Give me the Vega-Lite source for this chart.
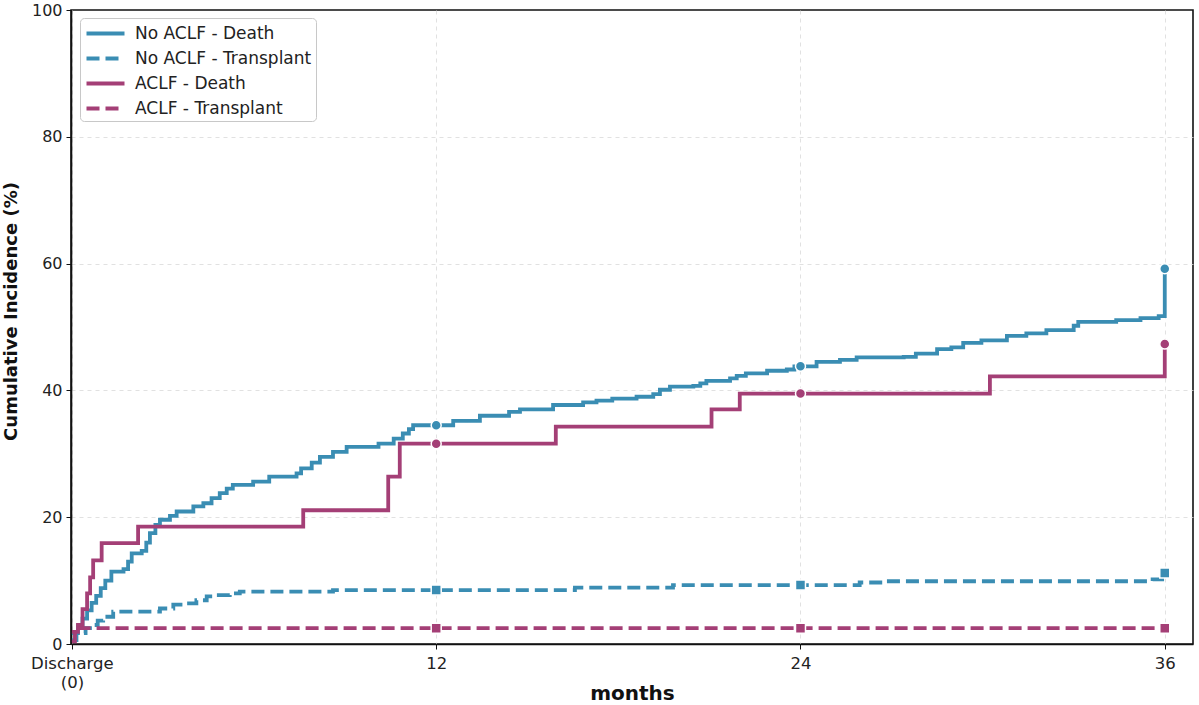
{
  "$schema": "https://vega.github.io/schema/vega-lite/v6.json",
  "width": 1122,
  "height": 634,
  "autosize": {"type": "none"},
  "padding": {"left": 71, "top": 10, "right": 6, "bottom": 61},
  "background": "white",
  "config": {
    "font": "DejaVu Sans",
    "view": {"stroke": "#111", "strokeWidth": 1.6},
    "axis": {
      "labelFont": "DejaVu Sans",
      "labelColor": "#222",
      "titleFont": "DejaVu Sans",
      "titleFontWeight": "bold",
      "titleColor": "#111",
      "domainColor": "#111",
      "domainWidth": 1.6,
      "tickColor": "#111",
      "tickSize": 5,
      "tickWidth": 1,
      "gridColor": "#d9d9d9",
      "gridDash": [4, 4],
      "gridWidth": 0.8
    }
  },
  "datasets": {
    "curves": [
      {"series": "No ACLF - Death", "month": 0, "value": 1.7},
      {"series": "No ACLF - Death", "month": 0.2, "value": 2.8},
      {"series": "No ACLF - Death", "month": 0.35, "value": 4.0},
      {"series": "No ACLF - Death", "month": 0.5, "value": 5.3},
      {"series": "No ACLF - Death", "month": 0.65, "value": 6.5},
      {"series": "No ACLF - Death", "month": 0.8, "value": 7.6},
      {"series": "No ACLF - Death", "month": 0.95, "value": 8.8},
      {"series": "No ACLF - Death", "month": 1.1, "value": 10.0},
      {"series": "No ACLF - Death", "month": 1.3, "value": 11.4},
      {"series": "No ACLF - Death", "month": 1.7, "value": 11.8},
      {"series": "No ACLF - Death", "month": 1.85, "value": 13.0},
      {"series": "No ACLF - Death", "month": 1.97, "value": 14.3},
      {"series": "No ACLF - Death", "month": 2.3, "value": 14.7},
      {"series": "No ACLF - Death", "month": 2.45, "value": 16.0},
      {"series": "No ACLF - Death", "month": 2.57, "value": 17.5},
      {"series": "No ACLF - Death", "month": 2.75, "value": 18.8},
      {"series": "No ACLF - Death", "month": 2.9, "value": 19.6},
      {"series": "No ACLF - Death", "month": 3.23, "value": 20.2},
      {"series": "No ACLF - Death", "month": 3.45, "value": 20.9},
      {"series": "No ACLF - Death", "month": 4.0, "value": 21.7},
      {"series": "No ACLF - Death", "month": 4.33, "value": 22.2},
      {"series": "No ACLF - Death", "month": 4.6, "value": 23.0},
      {"series": "No ACLF - Death", "month": 4.87, "value": 23.8},
      {"series": "No ACLF - Death", "month": 5.1, "value": 24.5},
      {"series": "No ACLF - Death", "month": 5.3, "value": 25.1},
      {"series": "No ACLF - Death", "month": 5.97, "value": 25.6},
      {"series": "No ACLF - Death", "month": 6.5, "value": 26.4},
      {"series": "No ACLF - Death", "month": 7.4, "value": 26.9},
      {"series": "No ACLF - Death", "month": 7.55, "value": 27.7},
      {"series": "No ACLF - Death", "month": 7.9, "value": 28.6},
      {"series": "No ACLF - Death", "month": 8.17, "value": 29.5},
      {"series": "No ACLF - Death", "month": 8.6, "value": 30.3},
      {"series": "No ACLF - Death", "month": 9.05, "value": 31.1},
      {"series": "No ACLF - Death", "month": 10.1, "value": 31.6},
      {"series": "No ACLF - Death", "month": 10.6, "value": 32.4},
      {"series": "No ACLF - Death", "month": 10.9, "value": 33.2},
      {"series": "No ACLF - Death", "month": 11.1, "value": 33.9},
      {"series": "No ACLF - Death", "month": 11.24, "value": 34.5},
      {"series": "No ACLF - Death", "month": 12, "value": 34.5},
      {"series": "No ACLF - Death", "month": 12.56, "value": 35.2},
      {"series": "No ACLF - Death", "month": 13.44, "value": 36.0},
      {"series": "No ACLF - Death", "month": 14.4, "value": 36.6},
      {"series": "No ACLF - Death", "month": 14.76, "value": 37.0},
      {"series": "No ACLF - Death", "month": 15.85, "value": 37.7},
      {"series": "No ACLF - Death", "month": 16.84, "value": 38.1},
      {"series": "No ACLF - Death", "month": 17.28, "value": 38.4},
      {"series": "No ACLF - Death", "month": 17.8, "value": 38.7},
      {"series": "No ACLF - Death", "month": 18.6, "value": 39.0},
      {"series": "No ACLF - Death", "month": 19.15, "value": 39.4},
      {"series": "No ACLF - Death", "month": 19.37, "value": 40.1},
      {"series": "No ACLF - Death", "month": 19.7, "value": 40.6},
      {"series": "No ACLF - Death", "month": 20.47, "value": 40.7},
      {"series": "No ACLF - Death", "month": 20.7, "value": 41.1},
      {"series": "No ACLF - Death", "month": 20.9, "value": 41.5},
      {"series": "No ACLF - Death", "month": 21.68, "value": 41.9},
      {"series": "No ACLF - Death", "month": 21.9, "value": 42.3},
      {"series": "No ACLF - Death", "month": 22.2, "value": 42.7},
      {"series": "No ACLF - Death", "month": 22.9, "value": 43.1},
      {"series": "No ACLF - Death", "month": 23.55, "value": 43.3},
      {"series": "No ACLF - Death", "month": 23.8, "value": 43.8},
      {"series": "No ACLF - Death", "month": 24, "value": 43.8},
      {"series": "No ACLF - Death", "month": 24.53, "value": 44.5},
      {"series": "No ACLF - Death", "month": 25.3, "value": 44.8},
      {"series": "No ACLF - Death", "month": 25.85, "value": 45.2},
      {"series": "No ACLF - Death", "month": 27.4, "value": 45.3},
      {"series": "No ACLF - Death", "month": 27.8, "value": 45.8},
      {"series": "No ACLF - Death", "month": 28.5, "value": 46.5},
      {"series": "No ACLF - Death", "month": 28.97, "value": 46.8},
      {"series": "No ACLF - Death", "month": 29.36, "value": 47.5},
      {"series": "No ACLF - Death", "month": 29.96, "value": 47.9},
      {"series": "No ACLF - Death", "month": 30.8, "value": 48.6},
      {"series": "No ACLF - Death", "month": 31.44, "value": 49.0},
      {"series": "No ACLF - Death", "month": 32.1, "value": 49.5},
      {"series": "No ACLF - Death", "month": 33.0, "value": 50.2},
      {"series": "No ACLF - Death", "month": 33.15, "value": 50.8},
      {"series": "No ACLF - Death", "month": 34.4, "value": 51.1},
      {"series": "No ACLF - Death", "month": 35.2, "value": 51.4},
      {"series": "No ACLF - Death", "month": 35.8, "value": 51.7},
      {"series": "No ACLF - Death", "month": 36, "value": 59.2},

      {"series": "No ACLF - Transplant", "month": 0, "value": 0.6},
      {"series": "No ACLF - Transplant", "month": 0.15, "value": 1.7},
      {"series": "No ACLF - Transplant", "month": 0.45, "value": 2.5},
      {"series": "No ACLF - Transplant", "month": 0.7, "value": 3.0},
      {"series": "No ACLF - Transplant", "month": 0.85, "value": 3.7},
      {"series": "No ACLF - Transplant", "month": 1.03, "value": 4.3},
      {"series": "No ACLF - Transplant", "month": 1.36, "value": 5.1},
      {"series": "No ACLF - Transplant", "month": 2.9, "value": 5.6},
      {"series": "No ACLF - Transplant", "month": 3.34, "value": 6.2},
      {"series": "No ACLF - Transplant", "month": 3.78, "value": 6.4},
      {"series": "No ACLF - Transplant", "month": 4.1, "value": 6.9},
      {"series": "No ACLF - Transplant", "month": 4.44, "value": 7.5},
      {"series": "No ACLF - Transplant", "month": 4.77, "value": 7.7},
      {"series": "No ACLF - Transplant", "month": 5.2, "value": 8.0},
      {"series": "No ACLF - Transplant", "month": 5.53, "value": 8.25},
      {"series": "No ACLF - Transplant", "month": 8.6, "value": 8.5},
      {"series": "No ACLF - Transplant", "month": 12, "value": 8.5},
      {"series": "No ACLF - Transplant", "month": 16.57, "value": 8.9},
      {"series": "No ACLF - Transplant", "month": 19.8, "value": 9.3},
      {"series": "No ACLF - Transplant", "month": 24, "value": 9.3},
      {"series": "No ACLF - Transplant", "month": 25.95, "value": 9.7},
      {"series": "No ACLF - Transplant", "month": 26.83, "value": 9.9},
      {"series": "No ACLF - Transplant", "month": 35.6, "value": 10.2},
      {"series": "No ACLF - Transplant", "month": 36, "value": 11.2},

      {"series": "ACLF - Death", "month": 0, "value": 1.9},
      {"series": "ACLF - Death", "month": 0.2, "value": 3.0},
      {"series": "ACLF - Death", "month": 0.35, "value": 5.5},
      {"series": "ACLF - Death", "month": 0.5, "value": 8.0},
      {"series": "ACLF - Death", "month": 0.6, "value": 10.5},
      {"series": "ACLF - Death", "month": 0.7, "value": 13.2},
      {"series": "ACLF - Death", "month": 0.98, "value": 15.9},
      {"series": "ACLF - Death", "month": 2.18, "value": 18.5},
      {"series": "ACLF - Death", "month": 7.62, "value": 21.1},
      {"series": "ACLF - Death", "month": 10.42, "value": 26.4},
      {"series": "ACLF - Death", "month": 10.8, "value": 31.6},
      {"series": "ACLF - Death", "month": 12, "value": 31.6},
      {"series": "ACLF - Death", "month": 15.94, "value": 34.3},
      {"series": "ACLF - Death", "month": 21.07, "value": 37.0},
      {"series": "ACLF - Death", "month": 22.0, "value": 39.5},
      {"series": "ACLF - Death", "month": 24, "value": 39.5},
      {"series": "ACLF - Death", "month": 30.24, "value": 42.2},
      {"series": "ACLF - Death", "month": 36, "value": 47.3},

      {"series": "ACLF - Transplant", "month": 0, "value": 0.4},
      {"series": "ACLF - Transplant", "month": 0.1, "value": 2.5},
      {"series": "ACLF - Transplant", "month": 36, "value": 2.5}
    ],
    "landmarks": [
      {"series": "No ACLF - Death", "event": "Death", "month": 12, "value": 34.5},
      {"series": "No ACLF - Death", "event": "Death", "month": 24, "value": 43.8},
      {"series": "No ACLF - Death", "event": "Death", "month": 36, "value": 59.2},
      {"series": "No ACLF - Transplant", "event": "Transplant", "month": 12, "value": 8.5},
      {"series": "No ACLF - Transplant", "event": "Transplant", "month": 24, "value": 9.3},
      {"series": "No ACLF - Transplant", "event": "Transplant", "month": 36, "value": 11.2},
      {"series": "ACLF - Death", "event": "Death", "month": 12, "value": 31.6},
      {"series": "ACLF - Death", "event": "Death", "month": 24, "value": 39.5},
      {"series": "ACLF - Death", "event": "Death", "month": 36, "value": 47.3},
      {"series": "ACLF - Transplant", "event": "Transplant", "month": 12, "value": 2.5},
      {"series": "ACLF - Transplant", "event": "Transplant", "month": 24, "value": 2.5},
      {"series": "ACLF - Transplant", "event": "Transplant", "month": 36, "value": 2.5}
    ]
  },
  "layer": [
    {
      "data": {"name": "curves"},
      "mark": {"type": "line", "interpolate": "step-after", "strokeWidth": 3.8, "clip": true},
      "encoding": {
        "x": {
          "field": "month",
          "type": "quantitative",
          "scale": {"domain": [-0.03, 36.93], "nice": false, "zero": false},
          "axis": {
            "values": [0, 12, 24, 36],
            "title": "months",
            "titleFontSize": 20,
            "titleY": 55,
            "titleBaseline": "alphabetic",
            "labelFontSize": 16.5,
            "labelPadding": 6,
            "labelLineHeight": 19,
            "labelFlush": false,
            "labelExpr": "datum.value == 0 ? ['Discharge', '(0)'] : datum.label",
            "grid": true
          }
        },
        "y": {
          "field": "value",
          "type": "quantitative",
          "scale": {"domain": [0, 100], "nice": false},
          "axis": {
            "values": [0, 20, 40, 60, 80, 100],
            "title": "Cumulative Incidence (%)",
            "titleFontSize": 18,
            "titleX": -55,
            "titleY": 301,
            "titleBaseline": "alphabetic",
            "labelFontSize": 16,
            "labelPadding": 4,
            "labelFlush": false,
            "grid": true,
            "gridColor": {"condition": {"test": "datum.value === 100", "value": "transparent"}, "value": "#d9d9d9"}
          }
        },
        "color": {
          "field": "series",
          "type": "nominal",
          "scale": {
            "domain": ["No ACLF - Death", "No ACLF - Transplant", "ACLF - Death", "ACLF - Transplant"],
            "range": ["#3A8DB3", "#3A8DB3", "#A43F76", "#A43F76"]
          },
          "legend": {
            "title": null,
            "orient": "none",
            "legendX": 9,
            "legendY": 8,
            "padding": 4,
            "fillColor": "white",
            "strokeColor": "#c8c8c8",
            "cornerRadius": 4,
            "symbolType": "M-2,0H2",
            "symbolSize": 361,
            "symbolStrokeWidth": 3.8,
            "symbolFillColor": "transparent",
            "symbolOffset": 10,
            "labelFont": "DejaVu Sans",
            "labelFontSize": 17,
            "labelColor": "#222",
            "labelOffset": 18,
            "rowPadding": 5,
            "labelLimit": 300
          }
        },
        "strokeDash": {
          "field": "series",
          "type": "nominal",
          "scale": {
            "domain": ["No ACLF - Death", "No ACLF - Transplant", "ACLF - Death", "ACLF - Transplant"],
            "range": [[1, 0], [13, 6], [1, 0], [13, 6]]
          },
          "legend": {
            "title": null,
            "orient": "none",
            "legendX": 9,
            "legendY": 8,
            "padding": 4,
            "fillColor": "white",
            "strokeColor": "#c8c8c8",
            "cornerRadius": 4,
            "symbolType": "M-2,0H2",
            "symbolSize": 361,
            "symbolStrokeWidth": 3.8,
            "symbolFillColor": "transparent",
            "symbolOffset": 10,
            "labelFont": "DejaVu Sans",
            "labelFontSize": 17,
            "labelColor": "#222",
            "labelOffset": 18,
            "rowPadding": 5,
            "labelLimit": 300
          }
        }
      }
    },
    {
      "data": {"name": "landmarks"},
      "mark": {"type": "point", "filled": true, "opacity": 1, "size": 100, "stroke": "white", "strokeWidth": 1.5},
      "encoding": {
        "x": {"field": "month", "type": "quantitative"},
        "y": {"field": "value", "type": "quantitative"},
        "color": {"field": "series", "type": "nominal"},
        "shape": {
          "field": "event",
          "type": "nominal",
          "scale": {"domain": ["Death", "Transplant"], "range": ["circle", "square"]},
          "legend": null
        }
      }
    }
  ]
}
